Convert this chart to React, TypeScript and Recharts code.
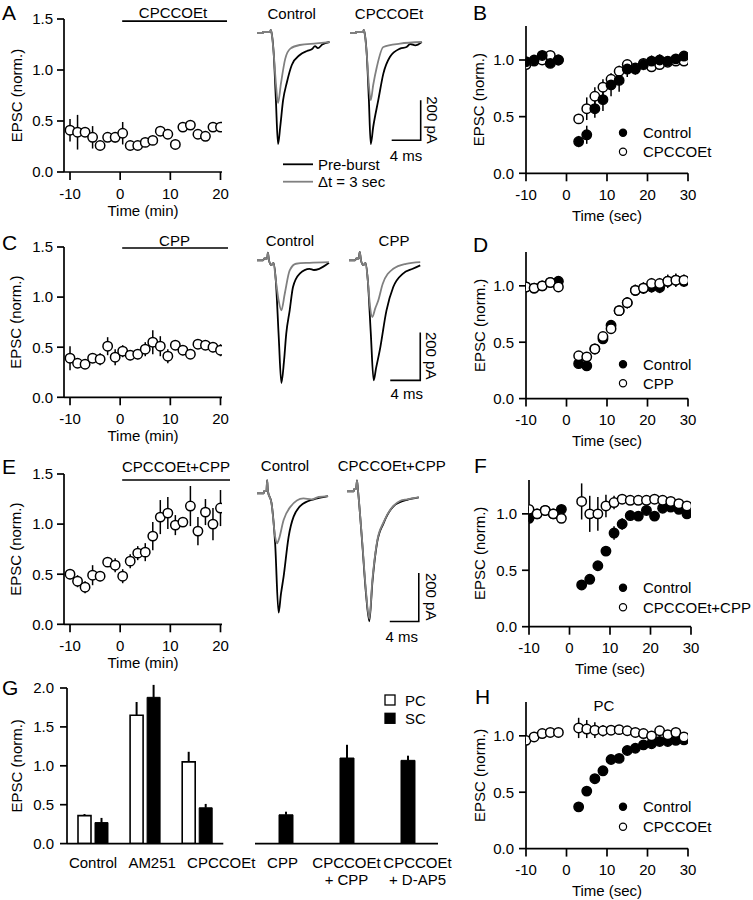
import React from 'react';
import {
  ScatterChart, Scatter, XAxis, YAxis, ErrorBar, LineChart, Line,
  BarChart, Bar, ReferenceLine,
} from 'recharts';

const FONT = '"Liberation Sans", Arial, Helvetica, sans-serif';
const GRAY = '#808080';

// ---------------- time-course data (left column, minutes) ----------------
const minTimes = [-10, -8.5, -7, -5.5, -4, -2.5, -1, 0.5, 2, 3.5, 5, 6.5, 8, 9.5, 11, 12.5, 14, 15.5, 17, 18.5, 20];
const aEpsc = [0.41, 0.39, 0.39, 0.34, 0.26, 0.34, 0.34, 0.38, 0.26, 0.26, 0.29, 0.31, 0.40, 0.37, 0.27, 0.44, 0.46, 0.37, 0.35, 0.44, 0.44];
const aErr = [0.11, 0.17, 0.04, 0.11, 0.03, 0.04, 0.05, 0.11, 0.03, 0.03, 0.03, 0.04, 0.04, 0.04, 0.03, 0.03, 0.03, 0.03, 0.03, 0.03, 0.03];
const cEpsc = [0.39, 0.34, 0.33, 0.39, 0.38, 0.51, 0.40, 0.46, 0.42, 0.43, 0.48, 0.55, 0.51, 0.41, 0.52, 0.47, 0.43, 0.53, 0.52, 0.50, 0.47];
const cErr = [0.12, 0.04, 0.04, 0.04, 0.06, 0.09, 0.08, 0.06, 0.05, 0.05, 0.07, 0.12, 0.10, 0.07, 0.04, 0.05, 0.03, 0.04, 0.04, 0.05, 0.06];
const eEpsc = [0.50, 0.43, 0.37, 0.49, 0.48, 0.62, 0.59, 0.48, 0.63, 0.71, 0.72, 0.88, 1.07, 1.11, 0.99, 1.02, 1.18, 0.93, 1.12, 1.00, 1.16];
const eErr = [0.05, 0.06, 0.06, 0.10, 0.05, 0.03, 0.07, 0.07, 0.07, 0.07, 0.09, 0.14, 0.17, 0.16, 0.10, 0.03, 0.20, 0.14, 0.13, 0.16, 0.18];
const minTicks = [-10, 0, 10, 20];
const epscTicks15 = [0, 0.5, 1.0, 1.5];
// drug application bars (min start/end, level)
const drugA = { from: 0.4, to: 21.3, level: 1.48 };
const drugC = { from: 0.4, to: 21.5, level: 1.49 };
const drugE = { from: 0.4, to: 21.9, level: 1.44 };

// ---------------- recovery data (right column, seconds) ----------------
const secTimes = [-10, -8, -6, -4, -2, 3, 5, 7, 9, 11, 13, 15, 17, 19, 21, 23, 25, 27, 29];
const bCtrl = [0.985, 1.0, 1.04, 0.97, 1.0, 0.28, 0.34, 0.57, 0.65, 0.78, 0.82, 0.92, 0.92, 0.96, 0.99, 1.0, 0.99, 1.01, 1.035];
const bCtrlErr = [0.03, 0.03, 0.03, 0.03, 0.02, 0.05, 0.08, 0.08, 0.1, 0.1, 0.1, 0.07, 0.05, 0.05, 0.05, 0.05, 0.04, 0.04, 0.04];
const bDrug = [0.96, 0.99, 1.0, 1.04, 1.0, 0.48, 0.57, 0.68, 0.76, 0.83, 0.90, 0.96, 0.93, 0.97, 0.94, 0.96, 0.98, 0.99, 0.99];
const bDrugErr = [0.02, 0.02, 0.02, 0.02, 0.02, 0.03, 0.1, 0.08, 0.07, 0.05, 0.05, 0.04, 0.04, 0.03, 0.03, 0.03, 0.03, 0.03, 0.03];
const dCtrl = [0.99, 0.98, 1.0, 1.03, 1.04, 0.31, 0.29, 0.44, 0.53, 0.65, 0.78, 0.85, 0.96, 0.98, 0.99, 0.985, 1.04, 1.05, 1.04];
const dCtrlErr = [0.02, 0.02, 0.02, 0.02, 0.02, 0.03, 0.03, 0.03, 0.03, 0.04, 0.04, 0.04, 0.05, 0.05, 0.05, 0.05, 0.05, 0.05, 0.05];
const dDrug = [0.99, 0.98, 1.0, 1.03, 0.99, 0.38, 0.37, 0.44, 0.55, 0.62, 0.78, 0.85, 0.96, 0.98, 1.02, 1.02, 1.04, 1.05, 1.05];
const dDrugErr = [0.02, 0.02, 0.02, 0.02, 0.02, 0.03, 0.03, 0.03, 0.03, 0.04, 0.04, 0.05, 0.05, 0.05, 0.05, 0.05, 0.06, 0.06, 0.05];
const fCtrl = [0.96, 1.0, 1.03, 1.0, 1.04, 0.37, 0.42, 0.54, 0.67, 0.83, 0.91, 0.985, 0.98, 1.03, 0.98, 1.05, 1.06, 1.04, 1.0];
const fCtrlErr = [0.03, 0.02, 0.02, 0.02, 0.02, 0.03, 0.04, 0.03, 0.03, 0.06, 0.05, 0.04, 0.03, 0.03, 0.03, 0.03, 0.03, 0.03, 0.03];
const fDrug = [1.04, 1.0, 1.03, 1.0, 0.96, 1.11, 1.0, 1.0, 1.07, 1.10, 1.13, 1.12, 1.12, 1.12, 1.13, 1.12, 1.11, 1.09, 1.07];
const fDrugErr = [0.02, 0.02, 0.02, 0.02, 0.02, 0.16, 0.16, 0.15, 0.1, 0.06, 0.04, 0.04, 0.04, 0.04, 0.04, 0.04, 0.03, 0.03, 0.03];
const hCtrl = [null, null, null, null, null, 0.37, 0.51, 0.62, 0.69, 0.79, 0.80, 0.87, 0.89, 0.92, 0.93, 0.95, 0.95, 0.96, 0.965];
const hCtrlErr = [0, 0, 0, 0, 0, 0.02, 0.04, 0.03, 0.03, 0.03, 0.03, 0.03, 0.02, 0.02, 0.02, 0.02, 0.02, 0.02, 0.02];
const hDrug = [0.96, 0.99, 1.02, 1.03, 1.03, 1.07, 1.06, 1.05, 1.045, 1.05, 1.055, 1.045, 1.03, 1.02, 1.0, 1.045, 1.01, 1.03, 0.99];
const hDrugErr = [0.02, 0.02, 0.02, 0.02, 0.02, 0.09, 0.08, 0.07, 0.05, 0.04, 0.03, 0.03, 0.03, 0.03, 0.03, 0.03, 0.03, 0.03, 0.03];
const secTicks = [-10, 0, 10, 20, 30];
const epscTicks13 = [0, 0.5, 1.0];

// ---------------- bar chart G ----------------
const gLeftCats = ['Control', 'AM251', 'CPCCOEt'];
const gLeftPC = [0.36, 1.65, 1.05];
const gLeftPCErr = [0.02, 0.17, 0.13];
const gLeftSC = [0.27, 1.88, 0.46];
const gLeftSCErr = [0.06, 0.16, 0.05];
const gRightCats = ['CPP', 'CPCCOEt\n+ CPP', 'CPCCOEt\n+ D-AP5'];
const gRightSC = [0.37, 1.10, 1.07];
const gRightSCErr = [0.04, 0.17, 0.06];
const gTicks = [0, 0.5, 1.0, 1.5, 2.0];

// ---------------- EPSC traces: [ms, pA] ----------------
const aCtrlPre: [number, number][] = [[0, 0], [0.8, 0], [0.85, 5], [1.8, 5], [1.9, 15], [2.0, 3], [2.3, -100], [2.6, -330], [2.9, -556], [3.2, -470], [3.6, -336], [4.1, -250], [4.8, -160], [5.9, -110], [6.9, -90], [7.6, -80], [8.0, -66], [8.4, -76], [9.0, -58], [10, -45]];
const aCtrlPost: [number, number][] = [[0, 0], [0.8, 0], [0.85, 5], [1.8, 5], [1.9, 15], [2.0, 3], [2.3, -100], [2.6, -250], [2.9, -350], [3.3, -253], [3.9, -128], [4.6, -78], [5.9, -60], [8.2, -52], [10, -45]];
const aDrugPre: [number, number][] = [[0, 0], [0.8, 0], [0.85, 5], [1.8, 5], [1.9, 15], [2.0, 3], [2.3, -100], [2.6, -330], [2.86, -556], [3.2, -470], [3.9, -336], [4.6, -203], [5.5, -120], [6.9, -78], [7.8, -70], [8.3, -55], [9.0, -62], [9.9, -45]];
const aDrugPost: [number, number][] = [[0, 0], [0.8, 0], [0.85, 5], [1.8, 5], [1.9, 15], [2.0, 3], [2.3, -100], [2.6, -260], [2.86, -336], [3.2, -260], [3.7, -170], [4.6, -70], [6.9, -53], [9.9, -45]];
const aScaleBar: [number, number][] = [[5.75, -536], [9.75, -536], [9.75, -336]];

const cCtrlPre: [number, number][] = [[0, 0], [0.8, 0], [1.0, 8], [1.35, 8], [1.45, 32], [1.6, 0], [1.9, -20], [2.2, -10], [2.5, -80], [2.9, -320], [3.25, -511], [3.6, -420], [3.9, -305], [4.36, -208], [4.8, -111], [5.7, -55], [7.0, -35], [7.6, -40], [8.3, -35], [9.6, -10]];
const cCtrlPost: [number, number][] = [[0, 0], [0.8, 0], [1.0, 8], [1.35, 8], [1.45, 32], [1.6, 0], [1.9, -20], [2.2, -10], [2.5, -80], [2.9, -170], [3.25, -208], [3.7, -139], [4.36, -42], [5.2, -14], [7.0, -10], [9.6, -7]];
const cDrugPre: [number, number][] = [[0, 0], [0.8, 0], [1.0, 8], [1.3, 8], [1.43, 35], [1.6, 0], [1.9, -20], [2.2, -10], [2.5, -80], [2.9, -300], [3.29, -500], [3.6, -450], [4.1, -375], [5.0, -208], [5.9, -111], [7.2, -55], [8.5, -35], [9.5, -21]];
const cDrugPost: [number, number][] = [[0, 0], [0.8, 0], [1.0, 8], [1.3, 8], [1.43, 35], [1.6, 0], [1.9, -20], [2.2, -10], [2.5, -80], [2.8, -190], [3.1, -236], [3.5, -200], [3.9, -167], [4.5, -97], [5.9, -35], [7.6, -14], [9.5, -7]];
const cScaleBar: [number, number][] = [[5.5, -500], [9.5, -500], [9.5, -300]];

const eCtrlPre: [number, number][] = [[0, 0], [0.9, 0], [1.0, 10], [1.3, 10], [1.4, 55], [1.5, 10], [2.0, -40], [2.5, -208], [2.98, -497], [3.3, -420], [3.67, -347], [4.36, -181], [5.05, -97], [6.4, -42], [8.3, -21], [9.8, -11]];
const eCtrlPost: [number, number][] = [[0, 0], [0.9, 0], [1.0, 10], [1.3, 10], [1.4, 55], [1.5, 10], [2.0, -40], [2.5, -180], [2.76, -208], [2.98, -195], [3.67, -111], [4.6, -56], [6.4, -21], [7.5, -25], [8.5, -15], [9.8, -11]];
const eDrugPre: [number, number][] = [[0, 0], [0.9, 0], [1.0, 10], [1.25, 10], [1.38, 46], [1.5, 10], [2.1, -215], [2.6, -420], [3.08, -541], [3.5, -380], [4.14, -215], [5.05, -132], [6.4, -62], [7.3, -45], [8.3, -35], [9.9, -25]];
const eDrugPost: [number, number][] = [[0, 0], [0.9, 0], [1.0, 10], [1.25, 10], [1.38, 46], [1.5, 10], [2.1, -210], [2.6, -410], [3.08, -530], [3.5, -370], [4.14, -210], [5.05, -128], [6.4, -60], [7.3, -40], [8.3, -33], [9.9, -25]];
const eScaleBar: [number, number][] = [[5.9, -542], [9.9, -542], [9.9, -340]];

// ---------------- helpers ----------------
type Pt = { x: number; y: number; e: number };
const toPts = (xs: number[], ys: (number | null)[], es: number[]): Pt[] =>
  xs.map((x, i) => ({ x, y: ys[i] as number, e: es[i] })).filter((p) => p.y !== null && p.y !== undefined);
const toTrace = (arr: [number, number][]) => arr.map(([t, v]) => ({ t, v }));
const fmt1 = (v: number) => v.toFixed(1);

interface Plot { left: number; top: number; width: number; height: number }
interface Series { data: Pt[]; filled: boolean }

const AXW = 1.7;

function TimePanel(props: {
  plot: Plot; xDomain: [number, number]; xTicks: number[]; yDomain: [number, number]; yTicks: number[];
  xTitle: string; xTitleDy: number; yTitleX: number; series: Series[]; drug?: { from: number; to: number; level: number };
  yTickMargin: number;
}) {
  const { plot, xDomain, xTicks, yDomain, yTicks, xTitle, xTitleDy, yTitleX, series, drug, yTickMargin } = props;
  const ML = 70, MR = 14, MT = 12, MB = 52;
  const left = plot.left - ML, top = plot.top - MT;
  const W = plot.width + ML + MR, H = plot.height + MT + MB;
  const tickStyle = { fill: '#000', fontSize: 15, fontFamily: FONT };
  const axisLine = { stroke: '#000', strokeWidth: AXW };
  const yCx = yTitleX - left, yCy = MT + plot.height / 2;
  return (
    <div style={{ position: 'absolute', left, top }}>
      <ScatterChart width={W} height={H} margin={{ top: MT, right: MR, left: 0, bottom: 0 }}>
        <XAxis type="number" dataKey="x" domain={xDomain} ticks={xTicks} interval={0} allowDataOverflow
          height={MB} tick={tickStyle} tickSize={8} tickMargin={8} axisLine={axisLine} tickLine={axisLine}
          label={() => (
            <text x={ML + plot.width / 2} y={MT + plot.height + xTitleDy} textAnchor="middle" dominantBaseline="central"
              fontSize={15} fontFamily={FONT} fill="#000">{xTitle}</text>
          )} />
        <YAxis type="number" dataKey="y" domain={yDomain} ticks={yTicks} interval={0} allowDataOverflow
          width={ML} tick={tickStyle} tickFormatter={fmt1} tickSize={7} tickMargin={yTickMargin} axisLine={axisLine} tickLine={axisLine}
          label={() => (
            <text x={yCx} y={yCy} transform={`rotate(-90 ${yCx} ${yCy})`} textAnchor="middle" dominantBaseline="central"
              fontSize={15} fontFamily={FONT} fill="#000">EPSC (norm.)</text>
          )} />
        {drug && (
          <ReferenceLine segment={[{ x: drug.from, y: drug.level }, { x: drug.to, y: drug.level }]}
            stroke="#000" strokeWidth={1.7} ifOverflow="visible" />
        )}
        {series.map((s, i) => (
          <Scatter key={i} data={s.data} isAnimationActive={false}
            shape={(p: any) => (
              <circle cx={p.cx} cy={p.cy} r={4.7} fill={s.filled ? '#000' : '#fff'} stroke="#000" strokeWidth={1.5} />
            )}>
            <ErrorBar dataKey="e" direction="y" width={0} stroke="#000" strokeWidth={1.5} isAnimationActive={false} />
          </Scatter>
        ))}
      </ScatterChart>
    </div>
  );
}

function TraceChart(props: {
  x0: number; y0: number; msPx: number; paPx: number; pre: [number, number][]; post: [number, number][];
  bar?: [number, number][];
}) {
  const { x0, y0, msPx, paPx, pre, post, bar } = props;
  const M = 4, tMax = 10.5, vMin = -620, vMax = 60;
  const w = tMax * msPx, h = (vMax - vMin) * paPx;
  const left = x0 - M, top = y0 - vMax * paPx - M;
  return (
    <div style={{ position: 'absolute', left, top }}>
      <LineChart width={w + 2 * M} height={h + 2 * M} margin={{ top: M, right: M, bottom: M, left: M }}>
        <XAxis type="number" dataKey="t" domain={[0, tMax]} hide height={0} allowDataOverflow />
        <YAxis type="number" dataKey="v" domain={[vMin, vMax]} hide width={0} allowDataOverflow />
        <Line data={toTrace(pre)} dataKey="v" type="monotone" stroke="#000" strokeWidth={1.8} dot={false} isAnimationActive={false} />
        <Line data={toTrace(post)} dataKey="v" type="monotone" stroke={GRAY} strokeWidth={1.8} dot={false} isAnimationActive={false} />
        {bar && (
          <Line data={toTrace(bar)} dataKey="v" type="linear" stroke="#000" strokeWidth={1.6} dot={false} isAnimationActive={false} />
        )}
      </LineChart>
    </div>
  );
}

const tickShift: Record<string, number> = { AM251: 7, CPCCOEt: 24, CPP: -3, 'CPCCOEt\n+ D-AP5': 10 };
const GTick = (p: any) => {
  const lines = String(p.payload.value).split('\n');
  const sx = p.x + (tickShift[p.payload.value] || 0);
  return (
    <text x={sx} y={p.y + 24} textAnchor="middle" fontSize={15} fontFamily={FONT} fill="#000">
      {lines.map((l, i) => (
        <tspan key={i} x={sx} dy={i === 0 ? 0 : 17}>{l}</tspan>
      ))}
    </text>
  );
};

function BarPanel() {
  const leftData = gLeftCats.map((c, i) => ({ name: c, pc: gLeftPC[i], pcErr: [0, gLeftPCErr[i]], sc: gLeftSC[i], scErr: [0, gLeftSCErr[i]] }));
  const rightData = gRightCats.map((c, i) => ({ name: c, sc: gRightSC[i], scErr: [0, gRightSCErr[i]] }));
  const axisLine = { stroke: '#000', strokeWidth: AXW };
  const plotL = { left: 66.7, top: 687.7, width: 156.3, height: 155.6 };
  const plotR = { left: 255, top: 687.7, width: 183, height: 155.6 };
  const ML = 70, MT = 10, MB = 50;
  const yCx = 16 - (plotL.left - ML), yCy = MT + plotL.height / 2;
  return (
    <>
      <div style={{ position: 'absolute', left: plotL.left - ML, top: plotL.top - MT }}>
        <BarChart width={plotL.width + ML + 60} height={plotL.height + MT + MB} data={leftData} barGap={4}
          margin={{ top: MT, right: 60, left: 0, bottom: 0 }}>
          <XAxis dataKey="name" type="category" height={MB} tickLine={false} tickSize={0} tickMargin={0} axisLine={axisLine} tick={<GTick />} interval={0} />
          <YAxis type="number" domain={[0, 2]} ticks={gTicks} interval={0} allowDataOverflow width={ML}
            tickFormatter={fmt1} tickSize={7} tickMargin={6} axisLine={axisLine} tickLine={axisLine}
            tick={{ fill: '#000', fontSize: 15, fontFamily: FONT }}
            label={() => (
              <text x={yCx} y={yCy} transform={`rotate(-90 ${yCx} ${yCy})`} textAnchor="middle" dominantBaseline="central"
                fontSize={15} fontFamily={FONT} fill="#000">EPSC (norm.)</text>
            )} />
          <Bar dataKey="pc" barSize={13} fill="#fff" stroke="#000" strokeWidth={1.6} isAnimationActive={false}>
            <ErrorBar dataKey="pcErr" width={0} stroke="#000" strokeWidth={2} direction="y" isAnimationActive={false} />
          </Bar>
          <Bar dataKey="sc" barSize={13} fill="#000" stroke="#000" strokeWidth={1} isAnimationActive={false}>
            <ErrorBar dataKey="scErr" width={0} stroke="#000" strokeWidth={2} direction="y" isAnimationActive={false} />
          </Bar>
        </BarChart>
      </div>
      <div style={{ position: 'absolute', left: plotR.left - 10, top: plotR.top - MT }}>
        <BarChart width={plotR.width + 10 + 30} height={plotR.height + MT + MB} data={rightData}
          margin={{ top: MT, right: 30, left: 10, bottom: 0 }}>
          <XAxis dataKey="name" type="category" height={MB} tickLine={false} tickSize={0} tickMargin={0} axisLine={axisLine} tick={<GTick />} interval={0} />
          <YAxis type="number" domain={[0, 2]} hide width={0} allowDataOverflow />
          <Bar dataKey="sc" barSize={14} fill="#000" stroke="#000" strokeWidth={1} isAnimationActive={false}>
            <ErrorBar dataKey="scErr" width={0} stroke="#000" strokeWidth={2} direction="y" isAnimationActive={false} />
          </Bar>
        </BarChart>
      </div>
    </>
  );
}

const T = (p: { x: number; y: number; children: React.ReactNode; anchor?: string; size?: number; rotate?: number }) => (
  <text x={p.x} y={p.y} textAnchor={(p.anchor as any) || 'middle'} dominantBaseline="central" fontSize={p.size || 15}
    fontFamily={FONT} fill="#000" transform={p.rotate ? `rotate(${p.rotate} ${p.x} ${p.y})` : undefined}>{p.children}</text>
);
const Letter = (p: { x: number; y: number; c: string }) => (
  <text x={p.x} y={p.y} fontSize={21} fontFamily={FONT} fill="#000">{p.c}</text>
);
const LegendRow = (p: { x: number; y: number; filled: boolean; label: string }) => (
  <g>
    <circle cx={p.x} cy={p.y} r={3.6} fill={p.filled ? '#000' : '#fff'} stroke="#000" strokeWidth={1.2} />
    <T x={p.x + 20} y={p.y} anchor="start">{p.label}</T>
  </g>
);

export default function App() {
  const left = { xDomain: [-11.2, 20.3] as [number, number], xTicks: minTicks, yDomain: [0, 1.5] as [number, number], yTicks: epscTicks15, xTitle: 'Time (min)', xTitleDy: 38, yTitleX: 16, yTickMargin: 4 };
  const right = { xDomain: [-10, 30] as [number, number], xTicks: secTicks, yDomain: [0, 1.3] as [number, number], yTicks: epscTicks13, xTitle: 'Time (sec)', xTitleDy: 42, yTitleX: 479, yTickMargin: 5 };
  return (
    <div style={{ position: 'absolute', left: 0, top: 0, width: 753, height: 900, background: '#fff', overflow: 'hidden' }}>
      {/* left time courses */}
      <TimePanel {...left} plot={{ left: 64, top: 19, width: 158, height: 153 }} drug={drugA}
        series={[{ data: toPts(minTimes, aEpsc, aErr), filled: false }]} />
      <TimePanel {...left} plot={{ left: 64, top: 246.7, width: 158, height: 150.3 }} drug={drugC}
        series={[{ data: toPts(minTimes, cEpsc, cErr), filled: false }]} />
      <TimePanel {...left} plot={{ left: 64, top: 474, width: 158, height: 150.3 }} drug={drugE}
        series={[{ data: toPts(minTimes, eEpsc, eErr), filled: false }]} />

      {/* right recovery panels */}
      <TimePanel {...right} plot={{ left: 526, top: 26, width: 162, height: 147.3 }}
        series={[{ data: toPts(secTimes, bDrug, bDrugErr), filled: false }, { data: toPts(secTimes, bCtrl, bCtrlErr), filled: true }]} />
      <TimePanel {...right} plot={{ left: 526, top: 251.7, width: 162, height: 146.6 }}
        series={[{ data: toPts(secTimes, dCtrl, dCtrlErr), filled: true }, { data: toPts(secTimes, dDrug, dDrugErr), filled: false }]} />
      <TimePanel {...right} plot={{ left: 529, top: 480, width: 162, height: 146.7 }}
        series={[{ data: toPts(secTimes, fCtrl, fCtrlErr), filled: true }, { data: toPts(secTimes, fDrug, fDrugErr), filled: false }]} />
      <TimePanel {...right} plot={{ left: 526, top: 701.7, width: 162, height: 146.6 }}
        series={[{ data: toPts(secTimes, hCtrl, hCtrlErr), filled: true }, { data: toPts(secTimes, hDrug, hDrugErr), filled: false }]} />

      {/* traces */}
      <TraceChart x0={257} y0={32.7} msPx={7.25} paPx={0.2} pre={aCtrlPre} post={aCtrlPost} />
      <TraceChart x0={350} y0={32.7} msPx={7.25} paPx={0.2} pre={aDrugPre} post={aDrugPost} bar={aScaleBar} />
      <TraceChart x0={257.3} y0={260} msPx={7.5} paPx={0.24} pre={cCtrlPre} post={cCtrlPost} />
      <TraceChart x0={349.3} y0={260} msPx={7.5} paPx={0.24} pre={cDrugPre} post={cDrugPost} bar={cScaleBar} />
      <TraceChart x0={256.7} y0={493.3} msPx={7.25} paPx={0.24} pre={eCtrlPre} post={eCtrlPost} />
      <TraceChart x0={346.7} y0={491.7} msPx={7.25} paPx={0.24} pre={eDrugPre} post={eDrugPost} bar={eScaleBar} />

      <BarPanel />

      {/* annotations */}
      <svg width={753} height={900} style={{ position: 'absolute', left: 0, top: 0, pointerEvents: 'none' }}>
        <Letter x={2} y={20} c="A" />
        <Letter x={2} y={250} c="C" />
        <Letter x={2} y={474} c="E" />
        <Letter x={2} y={695} c="G" />
        <Letter x={473} y={19.5} c="B" />
        <Letter x={473} y={251.5} c="D" />
        <Letter x={474} y={473} c="F" />
        <Letter x={475} y={704} c="H" />

        <T x={173} y={12.5}>CPCCOEt</T>
        <T x={174.5} y={240}>CPP</T>
        <T x={176} y={466}>CPCCOEt+CPP</T>

        <T x={291.7} y={13.3}>Control</T>
        <T x={389} y={13}>CPCCOEt</T>
        <T x={290} y={240}>Control</T>
        <T x={394} y={240}>CPP</T>
        <T x={285} y={465}>Control</T>
        <T x={391.7} y={465}>CPCCOEt+CPP</T>

        <T x={432} y={120} rotate={90}>200 pA</T>
        <T x={406} y={155}>4 ms</T>
        <T x={431.7} y={355.7} rotate={90}>200 pA</T>
        <T x={406.7} y={393}>4 ms</T>
        <T x={431.7} y={596.7} rotate={90}>200 pA</T>
        <T x={401.7} y={636.7}>4 ms</T>

        <line x1={283} x2={313} y1={164.3} y2={164.3} stroke="#000" strokeWidth={1.8} />
        <T x={318} y={164.3} anchor="start">Pre-burst</T>
        <line x1={283} x2={313} y1={181.7} y2={181.7} stroke={GRAY} strokeWidth={1.8} />
        <T x={318} y={181.7} anchor="start">Δt = 3 sec</T>

        <LegendRow x={623} y={132.7} filled label="Control" />
        <LegendRow x={623} y={151.7} filled={false} label="CPCCOEt" />
        <LegendRow x={623} y={364.3} filled label="Control" />
        <LegendRow x={623} y={383.3} filled={false} label="CPP" />
        <LegendRow x={623} y={587.7} filled label="Control" />
        <LegendRow x={623} y={607.3} filled={false} label="CPCCOEt+CPP" />
        <LegendRow x={623} y={806.7} filled label="Control" />
        <LegendRow x={623} y={826.7} filled={false} label="CPCCOEt" />
        <T x={604} y={705}>PC</T>

        <rect x={385} y={695} width={10} height={10} fill="#fff" stroke="#000" strokeWidth={1.3} />
        <T x={405} y={700} anchor="start">PC</T>
        <rect x={385} y={713.3} width={10} height={10} fill="#000" stroke="#000" strokeWidth={1.3} />
        <T x={405} y={718.3} anchor="start">SC</T>
      </svg>
    </div>
  );
}
